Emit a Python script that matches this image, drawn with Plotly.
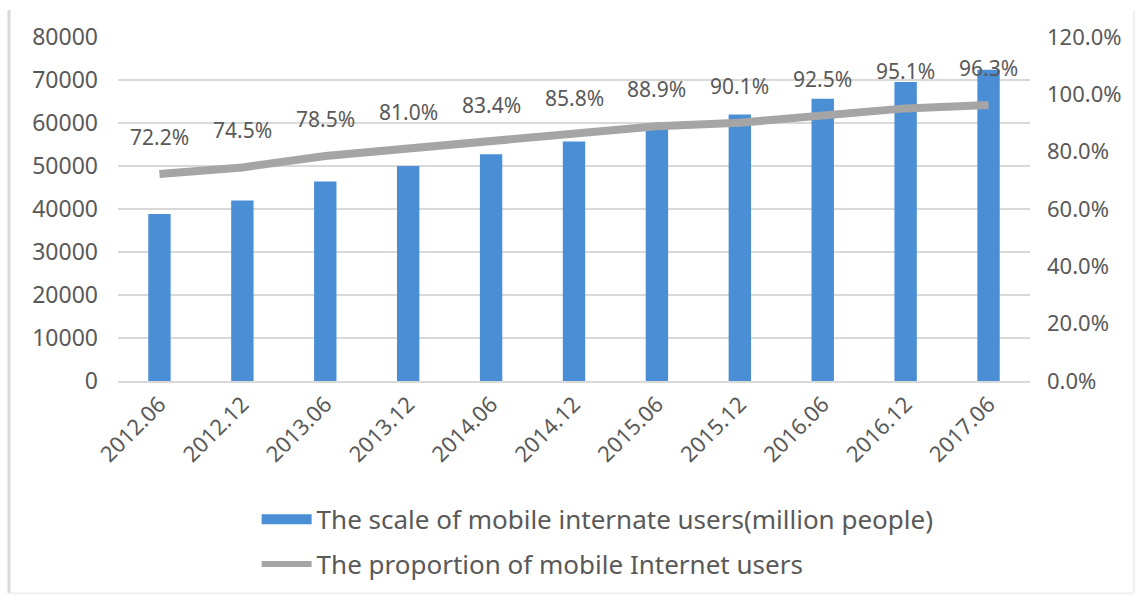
import plotly.graph_objects as go

categories = ["2012.06", "2012.12", "2013.06", "2013.12", "2014.06", "2014.12",
              "2015.06", "2015.12", "2016.06", "2016.12", "2017.06"]
users = [38825, 41997, 46383, 50006, 52706, 55678, 59357, 61981, 65637, 69531, 72361]
proportion = [72.2, 74.5, 78.5, 81.0, 83.4, 85.8, 88.9, 90.1, 92.5, 95.1, 96.3]
left_ticks = [0, 10000, 20000, 30000, 40000, 50000, 60000, 70000, 80000]
right_ticks = [0, 20, 40, 60, 80, 100, 120]

bar_name = "The scale of mobile internate users(million people)"
line_name = "The proportion of mobile Internet users"

FONT = "Noto Sans"
GRAY = "#595959"
BLUE = "#4A8FD6"
LINE = "#A5A5A5"

fig = go.Figure()
fig.add_trace(go.Bar(
    x=categories, y=users, name=bar_name, showlegend=False,
    marker=dict(color=BLUE, line=dict(width=0)),
    width=0.27, yaxis="y",
))
fig.add_trace(go.Scatter(
    x=categories, y=proportion, name=line_name, mode="lines", showlegend=False,
    line=dict(color=LINE, width=8), yaxis="y2",
))
# legend entries (wide swatches like the reference)
fig.add_trace(go.Scatter(
    x=[None], y=[None], name=bar_name, mode="lines", legendgroup="a",
    line=dict(color=BLUE, width=10),
))
fig.add_trace(go.Scatter(
    x=[None], y=[None], name=line_name, mode="lines", legendgroup="b",
    line=dict(color=LINE, width=6),
))

# category axis: annotation x given as category index
for i, p in enumerate(proportion):
    fig.add_annotation(x=i, y=p, xref="x", yref="y2", text=f"{p:.1f}%",
                       showarrow=False, yshift=37,
                       font=dict(family=FONT, size=21, color=GRAY))

fig.update_layout(
    width=1141, height=598,
    margin=dict(l=118, r=111, t=37, b=216),
    paper_bgcolor="white", plot_bgcolor="white",
    font=dict(family=FONT, size=20, color=GRAY),
    xaxis=dict(type="category", categoryorder="array", categoryarray=categories,
               tickangle=-45, showgrid=False, showline=True,
               linecolor="#D9D9D9", linewidth=1.5, ticks="",
               tickfont=dict(size=22, color=GRAY)),
    yaxis=dict(range=[0, 80000], tickvals=left_ticks, tickformat="d",
               gridcolor="#D9D9D9", gridwidth=1.5, zeroline=False,
               ticks="", ticklabelstandoff=19, tickfont=dict(size=23, color=GRAY)),
    yaxis2=dict(range=[0, 120], tickvals=right_ticks,
                ticktext=[f"{v:.1f}%" for v in right_ticks],
                overlaying="y", side="right", showgrid=False, zeroline=False,
                ticklabelstandoff=16, tickfont=dict(size=22, color=GRAY)),
    legend=dict(orientation="v", x=0.152, xanchor="left", y=-0.33, yanchor="top",
                font=dict(size=26, color=GRAY), tracegroupgap=8,
                itemwidth=50, bgcolor="rgba(0,0,0,0)"),
    shapes=[
        dict(type="line", xref="paper", yref="paper", x0=-0.1195, x1=-0.1195,
             y0=-0.617, y1=1.078, line=dict(color="#D9D9D9", width=3)),
        dict(type="line", xref="paper", yref="paper", x0=-0.1195, x1=1.114,
             y0=-0.617, y1=-0.617, line=dict(color="#F0F0F0", width=2)),
        dict(type="line", xref="paper", yref="paper", x0=1.114, x1=1.114,
             y0=-0.617, y1=1.078, line=dict(color="#F0F0F0", width=2)),
    ],
)

fig.write_html("out.html")
